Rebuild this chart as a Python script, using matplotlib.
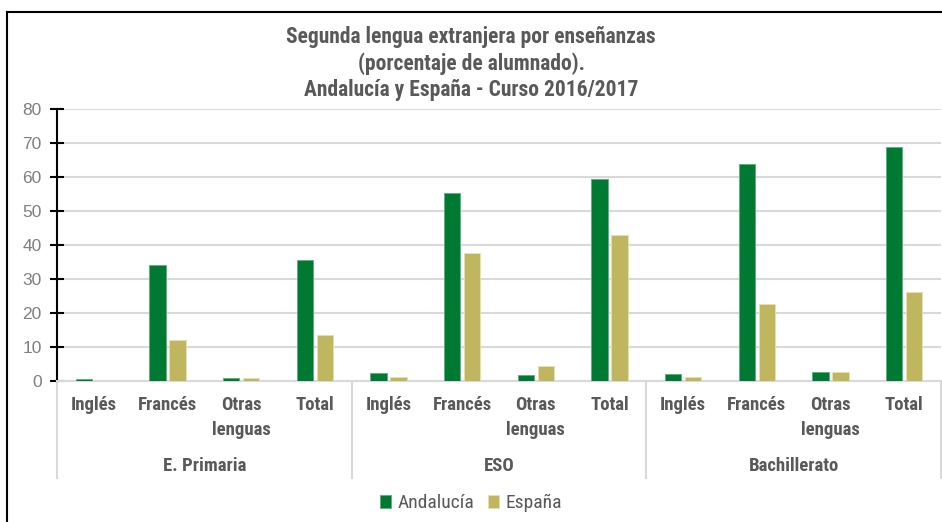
import matplotlib
matplotlib.use("Agg")
import matplotlib.pyplot as plt
from matplotlib import font_manager as fm
import numpy as np

groups = ["E. Primaria", "ESO", "Bachillerato"]
subcats = ["Inglés", "Francés", "Otras\nlenguas", "Total"]
andalucia = [0.5, 34.1, 0.9, 35.6,
             2.4, 55.3, 1.8, 59.4,
             2.1, 63.9, 2.6, 68.7]
espana = [0.0, 12.1, 0.9, 13.5,
          1.2, 37.6, 4.3, 42.9,
          1.3, 22.6, 2.6, 26.2]
yticks = [0, 10, 20, 30, 40, 50, 60, 70, 80]
title_lines = ["Segunda lengua extranjera por enseñanzas",
               "(porcentaje de alumnado).",
               "Andalucía y España - Curso 2016/2017"]

avail = {f.name for f in fm.fontManager.ttflist}
narrow = "Roboto"
for cand in ["Roboto Condensed", "Liberation Sans Narrow", "Open Sans Condensed", "Roboto"]:
    if cand in avail:
        narrow = cand
        break

W, H = 942, 522
fig = plt.figure(figsize=(W/100, H/100), dpi=100)
x0, x1 = 57, 941
yb, yt = 381, 109
ax = fig.add_axes([x0/W, 1-yb/H, (x1-x0)/W, (yb-yt)/H])

n = len(andalucia)
x = np.arange(n)
bw = 0.218
gap = 0.027
c_and = "#007A33"
c_esp = "#C0B660"
ax.bar(x - bw/2 - gap, andalucia, bw, color=c_and, edgecolor="#5BAF7A", linewidth=0.6, label="Andalucía", zorder=3)
ax.bar(x + bw/2 + gap, espana, bw, color=c_esp, edgecolor="#E6E0B0", linewidth=0.6, label="España", zorder=3)

ax.set_xlim(-0.5, n-0.5)
ax.set_ylim(0, 80)
ax.set_yticks(yticks)
ax.yaxis.grid(True, color="#D9D9D9", linewidth=1.5, zorder=0)
ax.set_axisbelow(True)
for s in ["top", "right"]:
    ax.spines[s].set_visible(False)
ax.spines["bottom"].set_color("#D9D9D9")
ax.spines["bottom"].set_linewidth(1.5)
ax.spines["left"].set_color("black")
ax.spines["left"].set_linewidth(1.5)
ax.tick_params(axis="y", direction="inout", length=10, width=1.5, color="black",
               labelcolor="#7F7F7F", labelsize=12.5, pad=6)
ax.tick_params(axis="x", bottom=False, labelbottom=False)
for lab in ax.get_yticklabels():
    lab.set_fontfamily("Liberation Sans")

trans = ax.get_xaxis_transform()
def ypix(p):
    return (yb - p) / (yb - yt)

for i in range(n):
    for k, line in enumerate(subcats[i % 4].split("\n")):
        ax.text(i, ypix(405 + 25*k), line, ha="center", va="center", fontsize=13.5,
                fontweight="bold", color="#595959", family=narrow, transform=trans)
for g, name in enumerate(groups):
    ax.text(4*g + 1.5, ypix(466), name, ha="center", va="center", fontsize=13.5,
            fontweight="bold", color="#595959", family=narrow, transform=trans)
for b in [-0.5, 3.5, 7.5, 11.5]:
    ax.plot([b, b], [0, ypix(478)], transform=trans, color="#D9D9D9", lw=1.5, clip_on=False)

for k, line in enumerate(title_lines):
    fig.text(0.5, 1-(37 + 26.5*k)/H, line, ha="center", va="center", fontsize=15.5,
             fontweight="bold", color="#595959", family=narrow)

leg = fig.legend(loc="center", bbox_to_anchor=(0.5, 1-503/H), ncol=2, frameon=False,
                 handlelength=0.55, handleheight=0.65, handletextpad=0.35,
                 columnspacing=0.7, prop={"family": narrow, "size": 14})
for t in leg.get_texts():
    t.set_color("#595959")

# chart border
fig.add_artist(plt.Line2D([7/W, 7/W], [0, 1-12/H], color="black", lw=1.5))
fig.add_artist(plt.Line2D([7/W, 1], [1-12/H, 1-12/H], color="black", lw=1.5))

fig.savefig("out.png", dpi=100)
